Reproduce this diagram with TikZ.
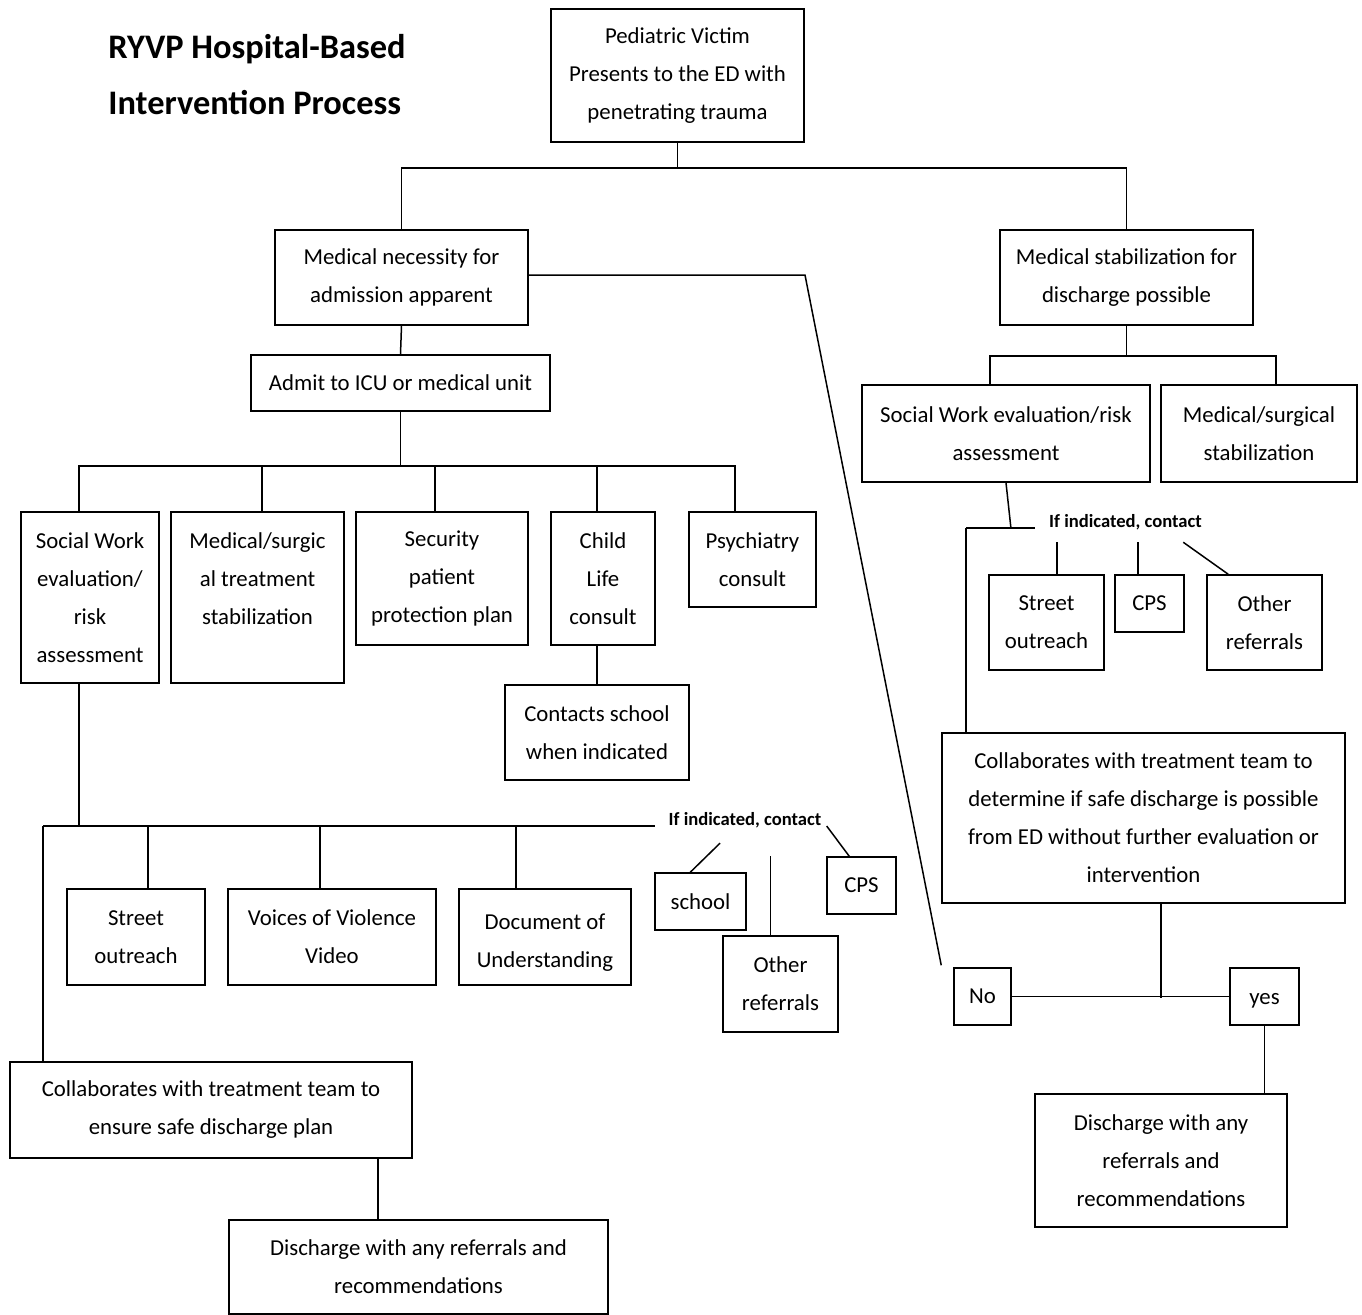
\documentclass[tikz,border=0pt]{standalone}
\usepackage{fontspec}
\setmainfont{Carlito}
\usepackage{tikz}
\usetikzlibrary{calc, positioning}
\tikzset{
	box/.style={draw, line width=0.75pt, align=center, inner sep=0pt, font=\fontsize{11.4}{19}\selectfont},
	conn/.style={line width=0.75pt}
}
\begin{document}
\begin{tikzpicture}[
	x=0.5pt, y=-0.5pt,
	bx/.style 2 args={box, minimum width=#1, minimum height=#2},
	ifnote/.style={inner sep=0pt, font=\fontsize{9.3}{11}\selectfont\bfseries},
	heading/.style={inner sep=0pt, align=left, font=\fontsize{17.2}{28}\selectfont\bfseries}]
	\useasboundingbox (0,0) rectangle (1362,1314);
	\node[heading, anchor=west] (title) at (108,75) {RYVP Hospital-Based\\Intervention Process};
	% top of the tree
	\node[bx={126.5pt}{66.5pt}] (victim) at (677.5,75.5) {Pediatric Victim\\Presents to the ED with\\penetrating trauma};
	\node[bx={126.5pt}{47.5pt}] (necessity) at (401.5,277.5) {Medical necessity for\\admission apparent};
	\node[bx={126.5pt}{47.5pt}] (stabil) at (1126.5,277.5) {Medical stabilization for\\discharge possible};
	\draw[conn] (victim.south) -- ++(0,25) coordinate (tj);
	\draw[conn] (necessity.north) |- (tj) -| (stabil.north);
	% admission branch
	\node[bx={149.5pt}{28pt}] (admit) at (400.5,383) {Admit to ICU or medical unit};
	\node[bx={69pt}{85.5pt}] (swL) at (90,597.5) {Social Work\\evaluation/\\risk\\assessment};
	\node[bx={86.5pt}{85.5pt}] (medL) at (257.5,597.5) {Medical/surgic\\al treatment\\stabilization\\\mbox{}};
	\node[bx={86pt}{66.5pt}] (secL) at (442,578.5) {Security\\patient\\protection plan};
	\node[bx={52pt}{66.5pt}] (child) at (603,578.5) {Child\\Life\\consult};
	\node[bx={63.5pt}{47.5pt}] (psych) at (752.5,559.5) {Psychiatry\\consult};
	\node[bx={92pt}{47.5pt}] (contacts) at (597,732.5) {Contacts school\\when indicated};
	\draw[conn] (necessity.south) -- (admit.north);
	\draw[conn] (admit.south) -- ++(0,54) coordinate (aj);
	\foreach \n/\dx in {swL/-11, medL/4.5, secL/-7, child/-6, psych/-17.5}
		\draw[conn] ($(\n.north)+(\dx,0)$) |- (aj);
	\draw[conn] (contacts.north) -- (contacts.north |- child.south);
	% social work follow-up, left
	\node[bx={69pt}{48pt}] (streetL) at (136,937) {Street\\outreach};
	\node[bx={104pt}{48pt}] (voices) at (332,937) {Voices of Violence\\Video};
	\node[bx={86pt}{48pt}] (docu) at (545,937) {\strut Document of\\Understanding};
	\node[ifnote] (ifL) at (745,820) {If indicated, contact};
	\node[bx={45.5pt}{28.5pt}] (school) at (700.5,901.5) {school};
	\node[bx={57.5pt}{48pt}] (otherL) at (780.5,984) {Other\\referrals};
	\node[bx={34.5pt}{28.5pt}] (cpsL) at (861.5,885.5) {CPS};
	\node[bx={201pt}{48pt}] (collabL) at (211,1110) {Collaborates with treatment team to\\ensure safe discharge plan};
	\node[bx={189.5pt}{47pt}] (dischL) at (418.5,1267) {Discharge with any referrals and\\recommendations};
	\coordinate (busL) at (43,826);
	\draw[conn] (busL) -- ($(ifL.west)+(-13,6)$);
	\draw[conn] ($(swL.south)+(-11,0)$) |- (busL);
	\foreach \n/\dx in {streetL/12, voices/-12, docu/-29}
		\draw[conn] ($(\n.north)+(\dx,0)$) |- (busL);
	\draw[conn] (busL) -- (busL |- collabL.north);
	\draw[conn] ($(ifL.south)+(-25,15)$) -- ($(school.north west)+(36,0)$);
	\draw[conn] ($(otherL.north)+(-10,0)$) -- ++(0,-79);
	\draw[conn] ($(ifL.east)+(5,6)$) -- ($(cpsL.north west)+(23,0)$);
	\draw[conn] ($(dischL.north)+(-40.5,0)$) -- ++(0,-62);
	% discharge branch, right
	\node[bx={144pt}{48.5pt}] (swR) at (1006,433.5) {Social Work evaluation/risk\\assessment};
	\node[bx={98pt}{48.5pt}] (medR) at (1259,433.5) {Medical/surgical\\stabilization};
	\draw[conn] (stabil.south) -- ++(0,30) coordinate (sj);
	\foreach \n/\dx in {swR/-16, medR/17}
		\draw[conn] ($(\n.north)+(\dx,0)$) |- (sj);
	\node[ifnote] (ifR) at (1125.5,522) {If indicated, contact};
	\node[bx={57.5pt}{47.5pt}] (streetR) at (1046.5,622.5) {Street\\outreach};
	\node[bx={34.5pt}{28.5pt}] (cpsR) at (1149.5,603.5) {CPS};
	\node[bx={57.5pt}{47.5pt}] (otherR) at (1264.5,622.5) {Other\\referrals};
	\node[bx={201.5pt}{85pt}] (collabR) at (1143.5,818) {Collaborates with treatment team to\\determine if safe discharge is possible\\from ED without further evaluation or\\intervention};
	\coordinate (busR) at (966,528);
	\draw[conn] (swR.south) -- ($(swR.south)+(5,46)$);
	\draw[conn] (busR) -- ($(ifR.west)+(-14,6)$);
	\draw[conn] (busR) -- (busR |- collabR.north);
	\draw[conn] ($(streetR.north)+(10.5,0)$) -- ++(0,-32);
	\draw[conn] ($(cpsR.north)+(-11.5,0)$) -- ++(0,-32);
	\draw[conn] ($(otherR.north west)+(22,0)$) -- ++(-45,-32);
	% yes / no
	\node[bx={28.5pt}{28.5pt}] (no) at (982.5,996.5) {No};
	\node[bx={34.5pt}{28.5pt}] (yes) at (1264.5,996.5) {\strut yes};
	\node[bx={126pt}{66.5pt}] (dischR) at (1161,1160.5) {Discharge with any\\referrals and\\recommendations};
	\draw[conn] (necessity.east |- 0,275) -- (805,275) -- ($(no.north west)+(-12,-2)$);
	\draw[conn] (no.east) -- (yes.west);
	\draw[conn] ($(collabR.south)+(17.5,0)$) -- ++(0,94);
	\draw[conn] (yes.south) -- (yes.south |- dischR.north);
\end{tikzpicture}
\end{document}
